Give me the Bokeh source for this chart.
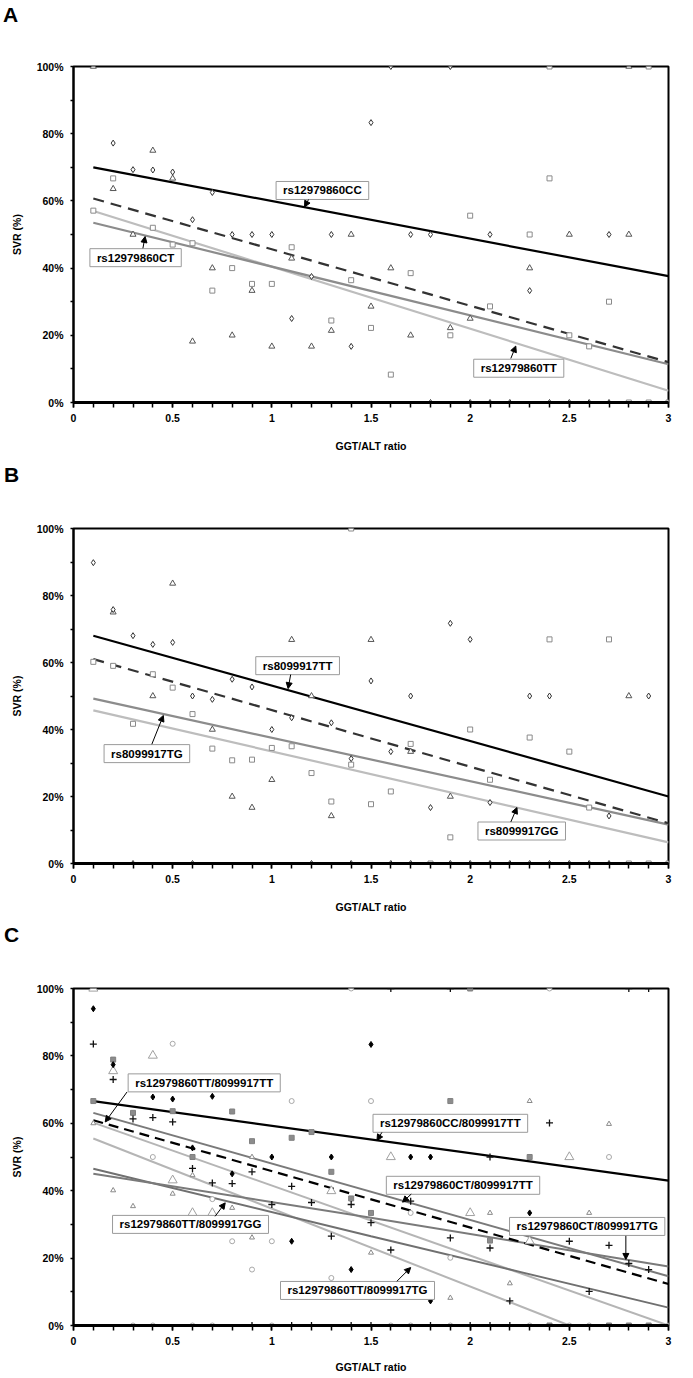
from bokeh.plotting import figure
from bokeh.models import FixedTicker, CustomJSTickFormatter, Label, Arrow, NormalHead, Div
from bokeh.layouts import column
from bokeh.embed import file_html
from bokeh.resources import INLINE

FONT = "Liberation Sans"

# ---------------- data ----------------
panel_letters = ["A", "B", "C"]
x_major = [0, 0.5, 1, 1.5, 2, 2.5, 3]
x_minor = [i / 10 for i in range(31)]
y_major = [0, 20, 40, 60, 80, 100]
y_minor = [10, 30, 50, 70, 90]
x_label = "GGT/ALT ratio"
y_label = "SVR (%)"

# Panel A: rs12979860
a_cc_x = [0.2, 0.3, 0.4, 0.5, 0.6, 0.7, 0.8, 0.9, 1.0, 1.1, 1.2, 1.3, 1.4, 1.5, 1.7, 1.8, 2.1, 2.3, 2.7,
          1.6, 1.9, 1.8, 2.0, 2.1, 2.2, 2.4, 2.5, 2.6, 2.7]
a_cc_y = [77.2, 69.3, 69.2, 68.6, 54.4, 62.5, 50, 50, 50, 25, 37.5, 50, 16.7, 83.3, 50, 50, 50, 33.3, 50,
          100, 100, 0, 0, 0, 0, 0, 0, 0, 0]
a_ct_x = [0.1, 0.2, 0.3, 0.4, 0.5, 0.6, 0.7, 0.8, 0.9, 1.0, 1.1, 1.2, 1.3, 1.4, 1.5, 1.6, 1.7, 1.9, 2.0,
          2.3, 2.5, 2.8, 2.8]
a_ct_y = [100, 63.6, 50, 75, 66.7, 18.2, 40, 20, 33.3, 16.7, 42.9, 16.7, 21.4, 50, 28.6, 40, 20, 22.2, 25,
          40, 50, 50, 100]
a_tt_x = [0.1, 0.2, 0.4, 0.5, 0.6, 0.7, 0.8, 0.9, 1.0, 1.1, 1.3, 1.4, 1.5, 1.6, 1.7, 1.9, 2.0, 2.1, 2.3,
          2.4, 2.5, 2.6, 2.7, 2.8, 2.9, 3.0, 2.4, 2.9]
a_tt_y = [57.1, 66.7, 52, 47, 47.4, 33.3, 40, 35.3, 35.3, 46.2, 24.4, 36.4, 22.2, 8.3, 38.5, 20, 55.6, 28.6, 50,
          66.7, 20, 16.7, 30, 0, 0, 0, 100, 100]
a_fit_x = [0.1, 3.0]
a_fit_cc = [70.0, 37.6]
a_fit_all = [60.7, 12.0]
a_fit_ct = [53.5, 11.4]
a_fit_tt = [57.0, 3.5]

# Panel B: rs8099917
b_tt_x = [0.1, 0.2, 0.3, 0.4, 0.5, 0.6, 0.7, 0.8, 0.9, 1.0, 1.1, 1.3, 1.4, 1.5, 1.6, 1.7, 1.8, 1.9, 2.0,
          2.1, 2.3, 2.4, 2.7, 2.9,
          0.3, 0.6, 1.2, 1.4, 1.6, 1.7, 1.9, 2.0, 2.1, 2.2, 2.3, 2.4, 2.5, 2.6, 2.7]
b_tt_y = [89.8, 75.8, 68, 65.4, 66, 50, 49, 55, 52.7, 40, 43.5, 42, 31.3, 54.5, 33.4, 50, 16.7, 71.7, 66.9,
          18.2, 50, 50, 14.2, 50,
          0, 0, 0, 0, 0, 0, 0, 0, 0, 0, 0, 0, 0, 0, 0]
b_tg_x = [0.2, 0.4, 0.5, 0.7, 0.8, 0.9, 1.0, 1.1, 1.2, 1.3, 1.5, 1.7, 1.9, 2.8]
b_tg_y = [75, 50, 83.6, 40, 20, 16.7, 25, 66.8, 50, 14.2, 66.8, 33.4, 20, 50]
b_gg_x = [0.1, 0.2, 0.3, 0.4, 0.5, 0.6, 0.7, 0.8, 0.9, 1.0, 1.1, 1.2, 1.3, 1.4, 1.4, 1.5, 1.6, 1.7, 1.9,
          2.0, 2.1, 2.3, 2.4, 2.5, 2.6, 2.7, 1.8, 2.8, 2.9, 3.0]
b_gg_y = [60.2, 59, 41.7, 56.5, 52.5, 44.6, 34.3, 30.8, 31, 34.5, 35, 27, 18.5, 29.5, 100, 17.7, 21.5, 35.7, 7.8,
          40, 25, 37.6, 66.9, 33.4, 16.7, 66.9, 0, 0, 0, 0]
b_fit_x = [0.1, 3.0]
b_fit_tt = [68.0, 20.0]
b_fit_all = [61.0, 12.0]
b_fit_tg = [49.2, 11.6]
b_fit_gg = [45.7, 6.3]

# Panel C: combined genotypes
c_dia_x = [0.1, 0.2, 0.4, 0.5, 0.6, 0.7, 0.8, 1.0, 1.1, 1.3, 1.4, 1.5, 1.7, 1.8, 1.8, 2.3]
c_dia_y = [94, 77.4, 67.8, 67.2, 52.7, 68, 45, 50, 25, 50, 16.6, 83.4, 50, 50, 7.3, 33.4]
c_plus_x = [0.1, 0.2, 0.3, 0.4, 0.5, 0.6, 0.7, 0.8, 0.9, 1.0, 1.1, 1.2, 1.3, 1.4, 1.5, 1.6, 1.7, 1.9, 2.1,
            2.1, 2.2, 2.4, 2.5, 2.6, 2.7, 2.8, 2.9,
            1.6, 1.9, 2.8, 2.9,
            0.9, 1.1, 1.2, 1.4, 1.5, 1.8, 2.0, 2.1, 2.2]
c_plus_y = [83.5, 73, 61.3, 61.7, 60.4, 46.6, 42.3, 42.1, 45.6, 35.9, 41.3, 36.5, 26.5, 35.9, 30.5, 22.4, 36.9, 26, 23,
            50, 7.3, 60.1, 25, 10.1, 23.8, 18.4, 16.6,
            100, 100, 100, 100,
            0, 0, 0, 0, 0, 0, 0, 0, 0]
c_sq_x = [0.1, 0.2, 0.3, 0.5, 0.6, 0.8, 0.9, 1.1, 1.2, 1.3, 1.4, 1.5, 1.9, 2.1, 2.3, 2.0, 2.4, 2.7, 2.8, 2.9]
c_sq_y = [66.6, 78.9, 63.1, 63.6, 50, 63.5, 54.7, 55.7, 57.4, 45.6, 37.7, 33.4, 66.6, 25.2, 50, 100, 0, 0, 0, 0]
c_tri_x = [0.1, 0.2, 0.4, 0.5, 0.6, 0.7, 1.3, 1.6, 2.0, 2.3, 2.5]
c_tri_y = [100, 75.5, 80.1, 43.1, 33.4, 33.4, 39.9, 50, 33.4, 25, 50]
c_circ_x = [0.4, 0.5, 0.7, 0.8, 0.9, 1.0, 1.1, 1.3, 1.5, 1.7, 1.9, 2.7, 1.4, 2.4,
            0.3, 0.4, 0.6, 0.7, 1.0, 1.6, 1.7, 1.9, 2.3, 2.5, 2.6, 3.0]
c_circ_y = [50, 83.6, 37.5, 25, 16.6, 25, 66.6, 14.1, 66.6, 33.4, 20.1, 50, 100, 100,
            0, 0, 0, 0, 0, 0, 0, 0, 0, 0, 0, 0]
c_stri_x = [0.1, 0.2, 0.3, 0.5, 0.6, 0.8, 0.9, 0.9, 1.5, 1.9, 2.1, 2.2, 2.3, 2.6, 2.7]
c_stri_y = [60, 40.1, 35.4, 39.1, 44.6, 34.9, 26.1, 50, 21.6, 8.2, 33.4, 12.5, 66.6, 33.4, 59.8]
c_fit_x = [0.1, 3.0]
c_fit_cc_tt = [66.6, 43.0]
c_fit_all = [60.9, 12.3]
c_fit_ct_tt = [63.1, 14.6]
c_fit_tt_tt = [60.2, 0.0]
c_fit_tt_tg_x = [0.1, 2.5]
c_fit_tt_tg = [55.5, 0.0]
c_fit3_x = [0.1, 1.5, 3.0]
c_fit_tt_gg = [46.5, 26.5, 5.3]
c_fit_ct_tg = [45.0, 32.0, 17.5]

W = 683


# ---------------- helpers ----------------
def letter_div(letter, pad_left, pad_top):
    html = ('<div style="padding-left:%dpx;padding-top:%dpx;font-family:\'Liberation Sans\',Arial,sans-serif;'
            'font-size:21px;font-weight:bold;line-height:24px;color:black;">%s</div>'
            % (pad_left, pad_top, letter))
    return Div(text=html, width=W, height=36, margin=0)


def make_panel(height, top, bottom, xlab_standoff=15):
    p = figure(width=W, height=height, x_range=(0, 3), y_range=(0, 100),
               output_backend="svg", toolbar_location=None,
               min_border_left=73, min_border_right=15,
               min_border_top=top, min_border_bottom=bottom)
    p.xgrid.visible = False
    p.ygrid.visible = False
    p.outline_line_color = "black"
    p.outline_line_width = 2
    p.outline_line_alpha = 1
    p.background_fill_color = "white"
    p.border_fill_color = "white"

    xa = p.xaxis[0]
    xa.ticker = FixedTicker(ticks=x_major, minor_ticks=x_minor)
    xa.formatter = CustomJSTickFormatter(code="return tick.toString()")
    xa.axis_line_width = 3
    xa.axis_line_color = "black"
    xa.major_tick_in = 0
    xa.major_tick_out = 5
    xa.minor_tick_in = 0
    xa.minor_tick_out = 5
    xa.major_tick_line_width = 1.5
    xa.minor_tick_line_width = 1.5
    xa.major_tick_line_color = "black"
    xa.minor_tick_line_color = "black"
    xa.major_label_standoff = 6
    xa.axis_label = x_label
    xa.axis_label_standoff = xlab_standoff

    ya = p.yaxis[0]
    ya.ticker = FixedTicker(ticks=y_major, minor_ticks=y_minor)
    ya.formatter = CustomJSTickFormatter(code="return tick + '%'")
    ya.axis_line_width = 2
    ya.axis_line_color = "black"
    ya.major_tick_in = 0
    ya.major_tick_out = 3
    ya.minor_tick_in = 0
    ya.minor_tick_out = 3
    ya.major_tick_line_width = 1.5
    ya.minor_tick_line_width = 1.5
    ya.major_label_standoff = 7
    ya.axis_label = y_label
    ya.axis_label_standoff = 11

    for ax in (xa, ya):
        ax.major_label_text_font = FONT
        ax.major_label_text_font_style = "bold"
        ax.major_label_text_font_size = "10.5px"
        ax.major_label_text_color = "black"
        ax.axis_label_text_font = FONT
        ax.axis_label_text_font_style = "bold"
        ax.axis_label_text_font_size = "10.5px"
        ax.axis_label_text_color = "black"
    return p


def box_label(p, x, y, text):
    p.add_layout(Label(x=x, y=y, text=text, text_font=FONT, text_font_style="bold",
                       text_font_size="11.5px", text_align="center", text_baseline="middle",
                       text_color="black", background_fill_color="white",
                       border_line_color="#9a9a9a", border_line_width=1, padding=(7, 3)))


def arrow(p, xs, ys, xe, ye):
    p.add_layout(Arrow(end=NormalHead(size=6, fill_color="black", line_color="black"),
                       x_start=xs, y_start=ys, x_end=xe, y_end=ye,
                       line_color="black", line_width=1))


def open_marks(p, xs, ys, marker, color, size=6):
    p.scatter(xs, ys, marker=marker, size=size, line_color=color, fill_color="white", line_width=1)


# ---------------- panel A ----------------
la = letter_div(panel_letters[0], 3, 3)
pa = make_panel(418, 30, 52)
pa.line(a_fit_x, a_fit_tt, line_color="#bdbdbd", line_width=2.2)
pa.line(a_fit_x, a_fit_ct, line_color="#8c8c8c", line_width=2.2)
pa.line(a_fit_x, a_fit_all, line_color="#333333", line_width=2.2, line_dash="11 7")
pa.line(a_fit_x, a_fit_cc, line_color="black", line_width=2.2)
open_marks(pa, a_tt_x, a_tt_y, "square", "#8a8a8a", 5)
open_marks(pa, a_ct_x, a_ct_y, "triangle", "#555555", 6)
open_marks(pa, a_cc_x, a_cc_y, "diamond", "#333333", 6)
box_label(pa, 1.255, 63.1, "rs12979860CC")
arrow(pa, 1.185, 60.4, 1.165, 58.2)
box_label(pa, 0.313, 43.1, "rs12979860CT")
arrow(pa, 0.35, 45.9, 0.361, 49.4)
box_label(pa, 2.245, 10.2, "rs12979860TT")
arrow(pa, 2.205, 13.1, 2.23, 16.8)

# ---------------- panel B ----------------
lb = letter_div(panel_letters[1], 4, 9)
pb = make_panel(425, 38, 52)
pb.line(b_fit_x, b_fit_gg, line_color="#bdbdbd", line_width=2.2)
pb.line(b_fit_x, b_fit_tg, line_color="#8c8c8c", line_width=2.2)
pb.line(b_fit_x, b_fit_all, line_color="#333333", line_width=2.2, line_dash="11 7")
pb.line(b_fit_x, b_fit_tt, line_color="black", line_width=2.2)
open_marks(pb, b_gg_x, b_gg_y, "square", "#8a8a8a", 5)
open_marks(pb, b_tg_x, b_tg_y, "triangle", "#555555", 6)
open_marks(pb, b_tt_x, b_tt_y, "diamond", "#333333", 6)
box_label(pb, 1.13, 59.05, "rs8099917TT")
arrow(pb, 1.095, 56.4, 1.082, 52.2)
box_label(pb, 0.37, 32.8, "rs8099917TG")
arrow(pb, 0.395, 35.6, 0.453, 44.2)
box_label(pb, 2.26, 9.7, "rs8099917GG")
arrow(pb, 2.205, 12.4, 2.236, 16.7)

# ---------------- panel C ----------------
lc = letter_div(panel_letters[2], 4, 8)
pc = make_panel(425, 37, 51, xlab_standoff=13)
pc.line(c_fit_tt_tg_x, c_fit_tt_tg, line_color="#b5b5b5", line_width=2)
pc.line(c_fit_x, c_fit_tt_tt, line_color="#b5b5b5", line_width=2)
pc.line(c_fit3_x, c_fit_tt_gg, line_color="#707070", line_width=2)
pc.line(c_fit3_x, c_fit_ct_tg, line_color="#7a7a7a", line_width=2)
pc.line(c_fit_x, c_fit_ct_tt, line_color="#7a7a7a", line_width=2)
pc.line(c_fit_x, c_fit_all, line_color="black", line_width=2.2, line_dash="10 6")
pc.line(c_fit_x, c_fit_cc_tt, line_color="black", line_width=2.2)
open_marks(pc, c_circ_x, c_circ_y, "circle", "#a8a8a8", 5)
open_marks(pc, c_tri_x, c_tri_y, "triangle", "#a0a0a0", 9)
open_marks(pc, c_stri_x, c_stri_y, "triangle", "#8a8a8a", 5)
pc.scatter(c_sq_x, c_sq_y, marker="square", size=5, line_color="#808080", fill_color="#8c8c8c")
pc.scatter(c_plus_x, c_plus_y, marker="cross", size=7, line_color="#111111", line_width=1.3)
pc.scatter(c_dia_x, c_dia_y, marker="diamond", size=6, line_color="black", fill_color="black")
box_label(pc, 0.659, 72.0, "rs12979860TT/8099917TT")
arrow(pc, 0.27, 69.3, 0.16, 60.4)
box_label(pc, 1.9, 60.0, "rs12979860CC/8099917TT")
arrow(pc, 1.555, 57.3, 1.53, 54.9)
box_label(pc, 1.964, 41.6, "rs12979860CT/8099917TT")
arrow(pc, 1.703, 39.0, 1.659, 36.6)
box_label(pc, 0.59, 30.0, "rs12979860TT/8099917GG")
arrow(pc, 0.714, 32.4, 0.765, 36.4)
box_label(pc, 1.432, 10.4, "rs12979860TT/8099917TG")
arrow(pc, 1.63, 13.1, 1.70, 17.2)
box_label(pc, 2.59, 29.4, "rs12979860CT/8099917TG")
arrow(pc, 2.785, 26.6, 2.785, 19.6)

layout = column(la, pa, lb, pb, lc, pc, spacing=0)
open("out.html", "w").write(file_html(layout, INLINE))
